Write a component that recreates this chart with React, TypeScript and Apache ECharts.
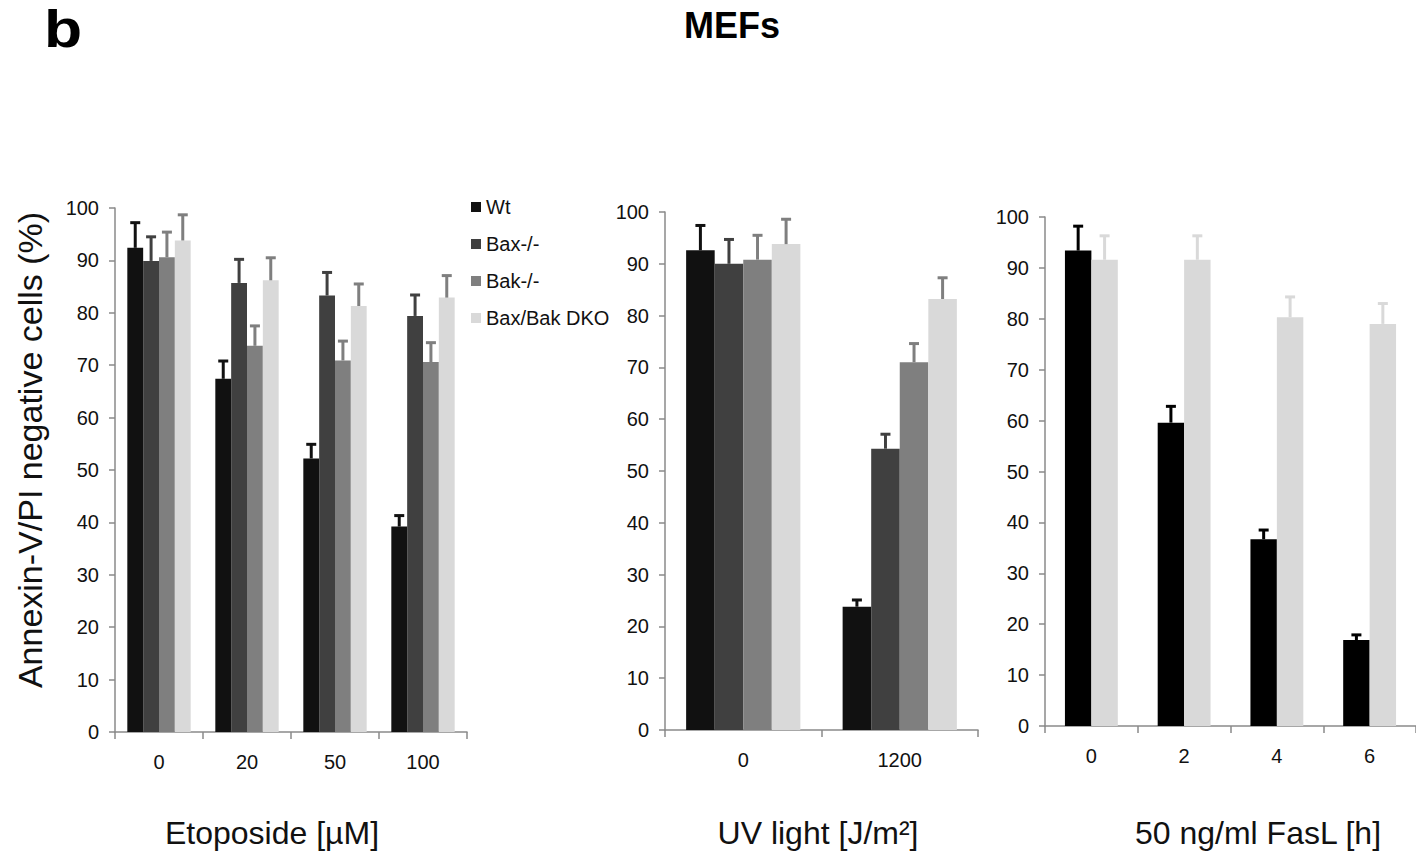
import React, { useEffect, useRef } from "react";
import * as echarts from "echarts";

// ---------- data ----------
const seriesNames = ["Wt", "Bax-/-", "Bak-/-", "Bax/Bak DKO"];

const etoCats = ["0", "20", "50", "100"];
const etoWt = [92.4, 67.4, 52.2, 39.2];
const etoWtErr = [4.8, 3.4, 2.7, 2.1];
const etoBax = [89.9, 85.7, 83.3, 79.4];
const etoBaxErr = [4.6, 4.5, 4.4, 4.0];
const etoBak = [90.6, 73.7, 70.9, 70.6];
const etoBakErr = [4.8, 3.8, 3.7, 3.7];
const etoDko = [93.8, 86.2, 81.3, 82.9];
const etoDkoErr = [4.9, 4.3, 4.2, 4.2];

const uvCats = ["0", "1200"];
const uvWt = [92.6, 23.8];
const uvWtErr = [4.8, 1.3];
const uvBax = [90.0, 54.3];
const uvBaxErr = [4.7, 2.8];
const uvBak = [90.8, 71.0];
const uvBakErr = [4.7, 3.6];
const uvDko = [93.8, 83.2];
const uvDkoErr = [4.8, 4.1];

const fasCats = ["0", "2", "4", "6"];
const fasWt = [93.4, 59.6, 36.7, 16.9];
const fasWtErr = [4.8, 3.2, 1.8, 1.0];
const fasDko = [91.6, 91.6, 80.3, 79.0];
const fasDkoErr = [4.7, 4.7, 4.0, 4.0];

const yTicks = { min: 0, max: 100, interval: 10 };

// ---------- styles ----------
const FONT = "'Liberation Sans', Arial, Helvetica, sans-serif";
const C_WT = "#111111";
const C_BAX = "#404040";
const C_BAK = "#7f7f7f";
const C_DKO = "#d9d9d9";
const AXIS_C = "#8a8a8a";
const TXT = "#111111";

function barSeries(name: string, idx: number, data: number[], color: string, gap: string) {
  return {
    type: "bar",
    name,
    xAxisIndex: idx,
    yAxisIndex: idx,
    data,
    barGap: "0%",
    barCategoryGap: gap,
    itemStyle: { color },
    z: 2,
  };
}

function errSeries(
  idx: number,
  vals: number[],
  errs: number[],
  barIdx: number,
  nBars: number,
  gapFrac: number,
  color: string
) {
  return {
    type: "custom",
    xAxisIndex: idx,
    yAxisIndex: idx,
    z: 5,
    silent: true,
    data: vals.map((v, i) => [i, v, v + errs[i]]),
    renderItem: (params: any, api: any) => {
      const i = api.value(0);
      const v = api.value(1);
      const t = api.value(2);
      const bw = api.size([1, 0])[0];
      const w = (bw * (1 - gapFrac)) / nBars;
      const c = api.coord([i, v]);
      const ct = api.coord([i, t]);
      const x = c[0] + (barIdx - (nBars - 1) / 2) * w;
      return {
        type: "group",
        children: [
          {
            type: "line",
            shape: { x1: x, y1: c[1], x2: x, y2: ct[1] },
            style: { stroke: color, lineWidth: 3 },
          },
          {
            type: "line",
            shape: { x1: x - 5, y1: ct[1], x2: x + 5, y2: ct[1] },
            style: { stroke: color, lineWidth: 3 },
          },
        ],
      };
    },
  };
}

function yAxis(idx: number) {
  return {
    type: "value",
    gridIndex: idx,
    ...yTicks,
    axisLine: { show: true, lineStyle: { color: AXIS_C, width: 1.5 } },
    axisTick: { show: true, length: 6, lineStyle: { color: AXIS_C, width: 1.5 } },
    splitLine: { show: false },
    axisLabel: { fontSize: 20, color: TXT, fontFamily: FONT, margin: 16 },
  };
}

function xAxis(idx: number, cats: string[]) {
  return {
    type: "category",
    gridIndex: idx,
    data: cats,
    axisLine: { show: true, lineStyle: { color: AXIS_C, width: 1.5 } },
    axisTick: { show: true, length: 7, interval: 0, lineStyle: { color: AXIS_C, width: 1.5 } },
    axisLabel: { fontSize: 20, color: TXT, fontFamily: FONT, margin: 20, interval: 0 },
    splitLine: { show: false },
  };
}

export default function App() {
  const ref = useRef<HTMLDivElement>(null);
  useEffect(() => {
    if (!ref.current) return;
    const chart = echarts.init(ref.current, undefined, { renderer: "svg" });
    const option: any = {
      animation: false,
      backgroundColor: "#ffffff",
      textStyle: { fontFamily: FONT },
      grid: [
        { left: 115, top: 208, width: 352, height: 524 },
        { left: 665, top: 212, width: 313, height: 518 },
        { left: 1045, top: 217, width: 375, height: 509 },
      ],
      xAxis: [xAxis(0, etoCats), xAxis(1, uvCats), xAxis(2, fasCats)],
      yAxis: [yAxis(0), yAxis(1), yAxis(2)],
      legend: {
        data: seriesNames,
        orient: "vertical",
        left: 466,
        top: 192,
        icon: "rect",
        itemWidth: 10,
        itemHeight: 10,
        itemGap: 17,
        textStyle: { fontSize: 20, color: TXT, fontFamily: FONT },
      },
      series: [
        barSeries(seriesNames[0], 0, etoWt, C_WT, "28%"),
        barSeries(seriesNames[1], 0, etoBax, C_BAX, "28%"),
        barSeries(seriesNames[2], 0, etoBak, C_BAK, "28%"),
        barSeries(seriesNames[3], 0, etoDko, C_DKO, "28%"),
        errSeries(0, etoWt, etoWtErr, 0, 4, 0.28, C_WT),
        errSeries(0, etoBax, etoBaxErr, 1, 4, 0.28, C_BAX),
        errSeries(0, etoBak, etoBakErr, 2, 4, 0.28, C_BAK),
        errSeries(0, etoDko, etoDkoErr, 3, 4, 0.28, C_BAK),

        barSeries(seriesNames[0], 1, uvWt, C_WT, "27%"),
        barSeries(seriesNames[1], 1, uvBax, C_BAX, "27%"),
        barSeries(seriesNames[2], 1, uvBak, C_BAK, "27%"),
        barSeries(seriesNames[3], 1, uvDko, C_DKO, "27%"),
        errSeries(1, uvWt, uvWtErr, 0, 4, 0.27, C_WT),
        errSeries(1, uvBax, uvBaxErr, 1, 4, 0.27, C_BAX),
        errSeries(1, uvBak, uvBakErr, 2, 4, 0.27, C_BAK),
        errSeries(1, uvDko, uvDkoErr, 3, 4, 0.27, C_BAK),

        barSeries(seriesNames[0], 2, fasWt, "#000000", "43%"),
        barSeries(seriesNames[3], 2, fasDko, C_DKO, "43%"),
        errSeries(2, fasWt, fasWtErr, 0, 2, 0.43, "#000000"),
        errSeries(2, fasDko, fasDkoErr, 1, 2, 0.43, C_DKO),
      ],
      graphic: [
        {
          type: "text",
          x: 44,
          y: 0,
          scaleX: 1.2,
          style: {
            text: "b",
            fontSize: 52,
            fontWeight: "bold",
            fill: "#000",
            fontFamily: FONT,
            align: "left",
            verticalAlign: "top",
            lineHeight: 58,
          },
        },
        {
          type: "text",
          x: 732,
          y: 25,
          style: {
            text: "MEFs",
            fontSize: 36,
            fontWeight: "bold",
            fill: "#000",
            fontFamily: FONT,
            align: "center",
            verticalAlign: "middle",
          },
        },
        {
          type: "text",
          x: 30,
          y: 450,
          rotation: Math.PI / 2,
          style: {
            text: "Annexin-V/PI negative cells (%)",
            fontSize: 34,
            fill: TXT,
            fontFamily: FONT,
            align: "center",
            verticalAlign: "middle",
          },
        },
        {
          type: "text",
          x: 272,
          y: 833,
          style: {
            text: "Etoposide [µM]",
            fontSize: 32,
            fill: TXT,
            fontFamily: FONT,
            align: "center",
            verticalAlign: "middle",
          },
        },
        {
          type: "text",
          x: 818,
          y: 833,
          style: {
            text: "UV light [J/m²]",
            fontSize: 32,
            fill: TXT,
            fontFamily: FONT,
            align: "center",
            verticalAlign: "middle",
          },
        },
        {
          type: "text",
          x: 1258,
          y: 833,
          style: {
            text: "50 ng/ml FasL [h]",
            fontSize: 32,
            fill: TXT,
            fontFamily: FONT,
            align: "center",
            verticalAlign: "middle",
          },
        },
      ],
    };
    chart.setOption(option);
    return () => chart.dispose();
  }, []);
  return (
    <div
      ref={ref}
      style={{ position: "fixed", left: 0, top: 0, width: 1416, height: 852, background: "#fff" }}
    />
  );
}
